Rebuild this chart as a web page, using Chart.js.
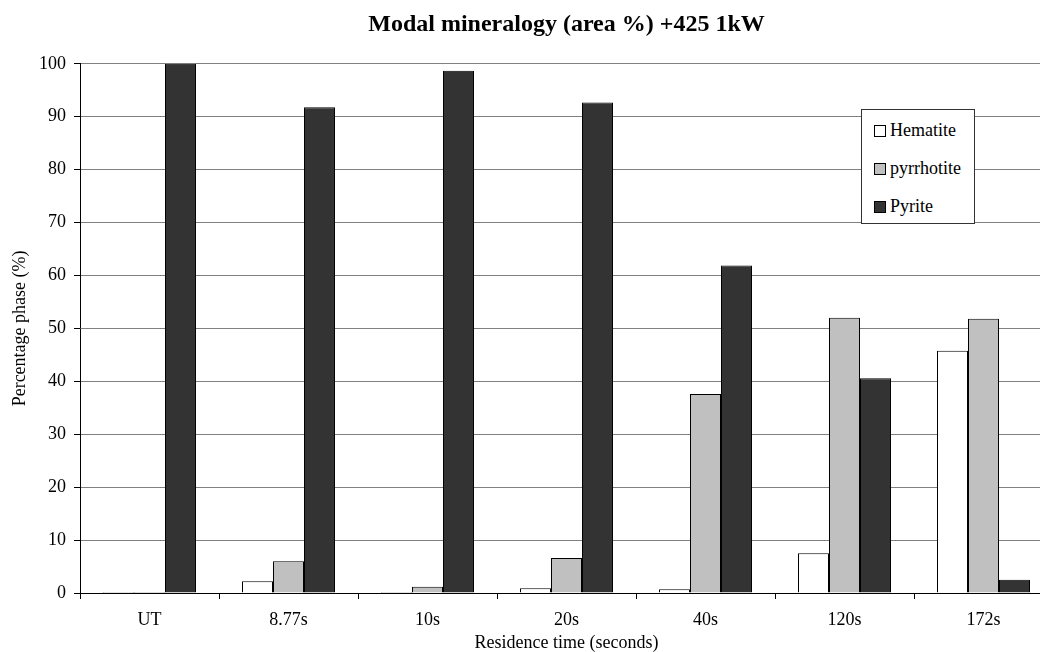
<!DOCTYPE html>
<html lang="en">
<head>
    <meta charset="UTF-8">
    <title>Modal mineralogy (area %) +425 1kW</title>
    <script src="https://cdn.jsdelivr.net/npm/chart.js"></script>
    <style>
        body { margin: 0; overflow: hidden; background: #fff; }
        #wrap { position: relative; width: 1060px; height: 652px; }
        #legend {
            position: absolute; left: 861px; top: 109px; width: 112px; height: 113px;
            border: 1px solid #333; background: #fff;
            font-family: 'Liberation Serif', 'Times New Roman', serif; font-size: 18px;
        }
        #legend div { position: absolute; left: 12px; height: 20px; line-height: 20px; white-space: nowrap; }
        #legend span { display: inline-block; width: 10px; height: 10px; border: 1px solid #000; margin-right: 4px; vertical-align: -1px; }
    </style>
</head>
<body>
    <div id="wrap">
        <canvas id="chart" width="1060" height="652"></canvas>
        <div id="legend"></div>
    </div>

    <script>
        // Data
        const categories = ['UT', '8.77s', '10s', '20s', '40s', '120s', '172s'];
        const hematite = [0.2, 2.2, 0.2, 0.9, 0.7, 7.5, 45.8];
        const pyrrhotite = [0.2, 6.0, 1.2, 6.6, 37.6, 52.0, 51.8];
        const pyrite = [100, 91.8, 98.7, 92.7, 61.9, 40.6, 2.5];

        const seriesNames = ['Hematite', 'pyrrhotite', 'Pyrite'];
        const seriesColors = ['#ffffff', '#c0c0c0', '#333333'];
        const seriesData = [hematite, pyrrhotite, pyrite];

        const serif = "'Liberation Serif', 'Times New Roman', serif";

        const datasets = seriesNames.map((name, i) => ({
            label: name,
            data: seriesData[i],
            backgroundColor: seriesColors[i],
            borderColor: '#000',
            borderWidth: 1,
            categoryPercentage: 0.669,
            barPercentage: 1.0
        }));

        const ctx = document.getElementById('chart').getContext('2d');
        new Chart(ctx, {
            type: 'bar',
            data: { labels: categories, datasets: datasets },
            options: {
                responsive: false,
                animation: false,
                devicePixelRatio: 1,
                layout: { padding: { left: 0, right: 7, top: 0, bottom: 0 } },
                plugins: {
                    legend: { display: false },
                    tooltip: { enabled: false },
                    title: {
                        display: true,
                        fullSize: false,
                        text: 'Modal mineralogy (area %) +425 1kW',
                        color: '#000',
                        font: { family: serif, size: 24, weight: 'bold', lineHeight: 1.2 },
                        padding: { top: 10, bottom: 25 }
                    }
                },
                scales: {
                    x: {
                        grid: { drawOnChartArea: false, tickLength: 6, tickColor: '#000' },
                        border: { color: '#000' },
                        ticks: { color: '#000', padding: 10, font: { family: serif, size: 18 } },
                        title: {
                            display: true, text: 'Residence time (seconds)', color: '#000',
                            font: { family: serif, size: 18, lineHeight: 1 }, padding: 0
                        },
                        afterFit: s => { s.height = 59; }
                    },
                    y: {
                        min: 0, max: 100,
                        grid: {
                            color: c => c.tick && c.tick.value === 0 ? '#000' : '#808080',
                            tickLength: 6, tickColor: '#000'
                        },
                        border: { color: '#000' },
                        ticks: { stepSize: 10, color: '#000', padding: 8, font: { family: serif, size: 18 } },
                        title: {
                            display: true, text: 'Percentage phase (%)', color: '#000',
                            font: { family: serif, size: 18 }, padding: { top: 9, bottom: 0 }
                        },
                        afterFit: s => { s.width = 80; }
                    }
                }
            }
        });

        // legend box inside the plot
        const legend = document.getElementById('legend');
        const rowTops = [10, 48, 86];
        seriesNames.forEach((name, i) => {
            const row = document.createElement('div');
            row.style.top = rowTops[i] + 'px';
            row.innerHTML = '<span style="background:' + seriesColors[i] + '"></span>' + name;
            legend.appendChild(row);
        });
    </script>
</body>
</html>
